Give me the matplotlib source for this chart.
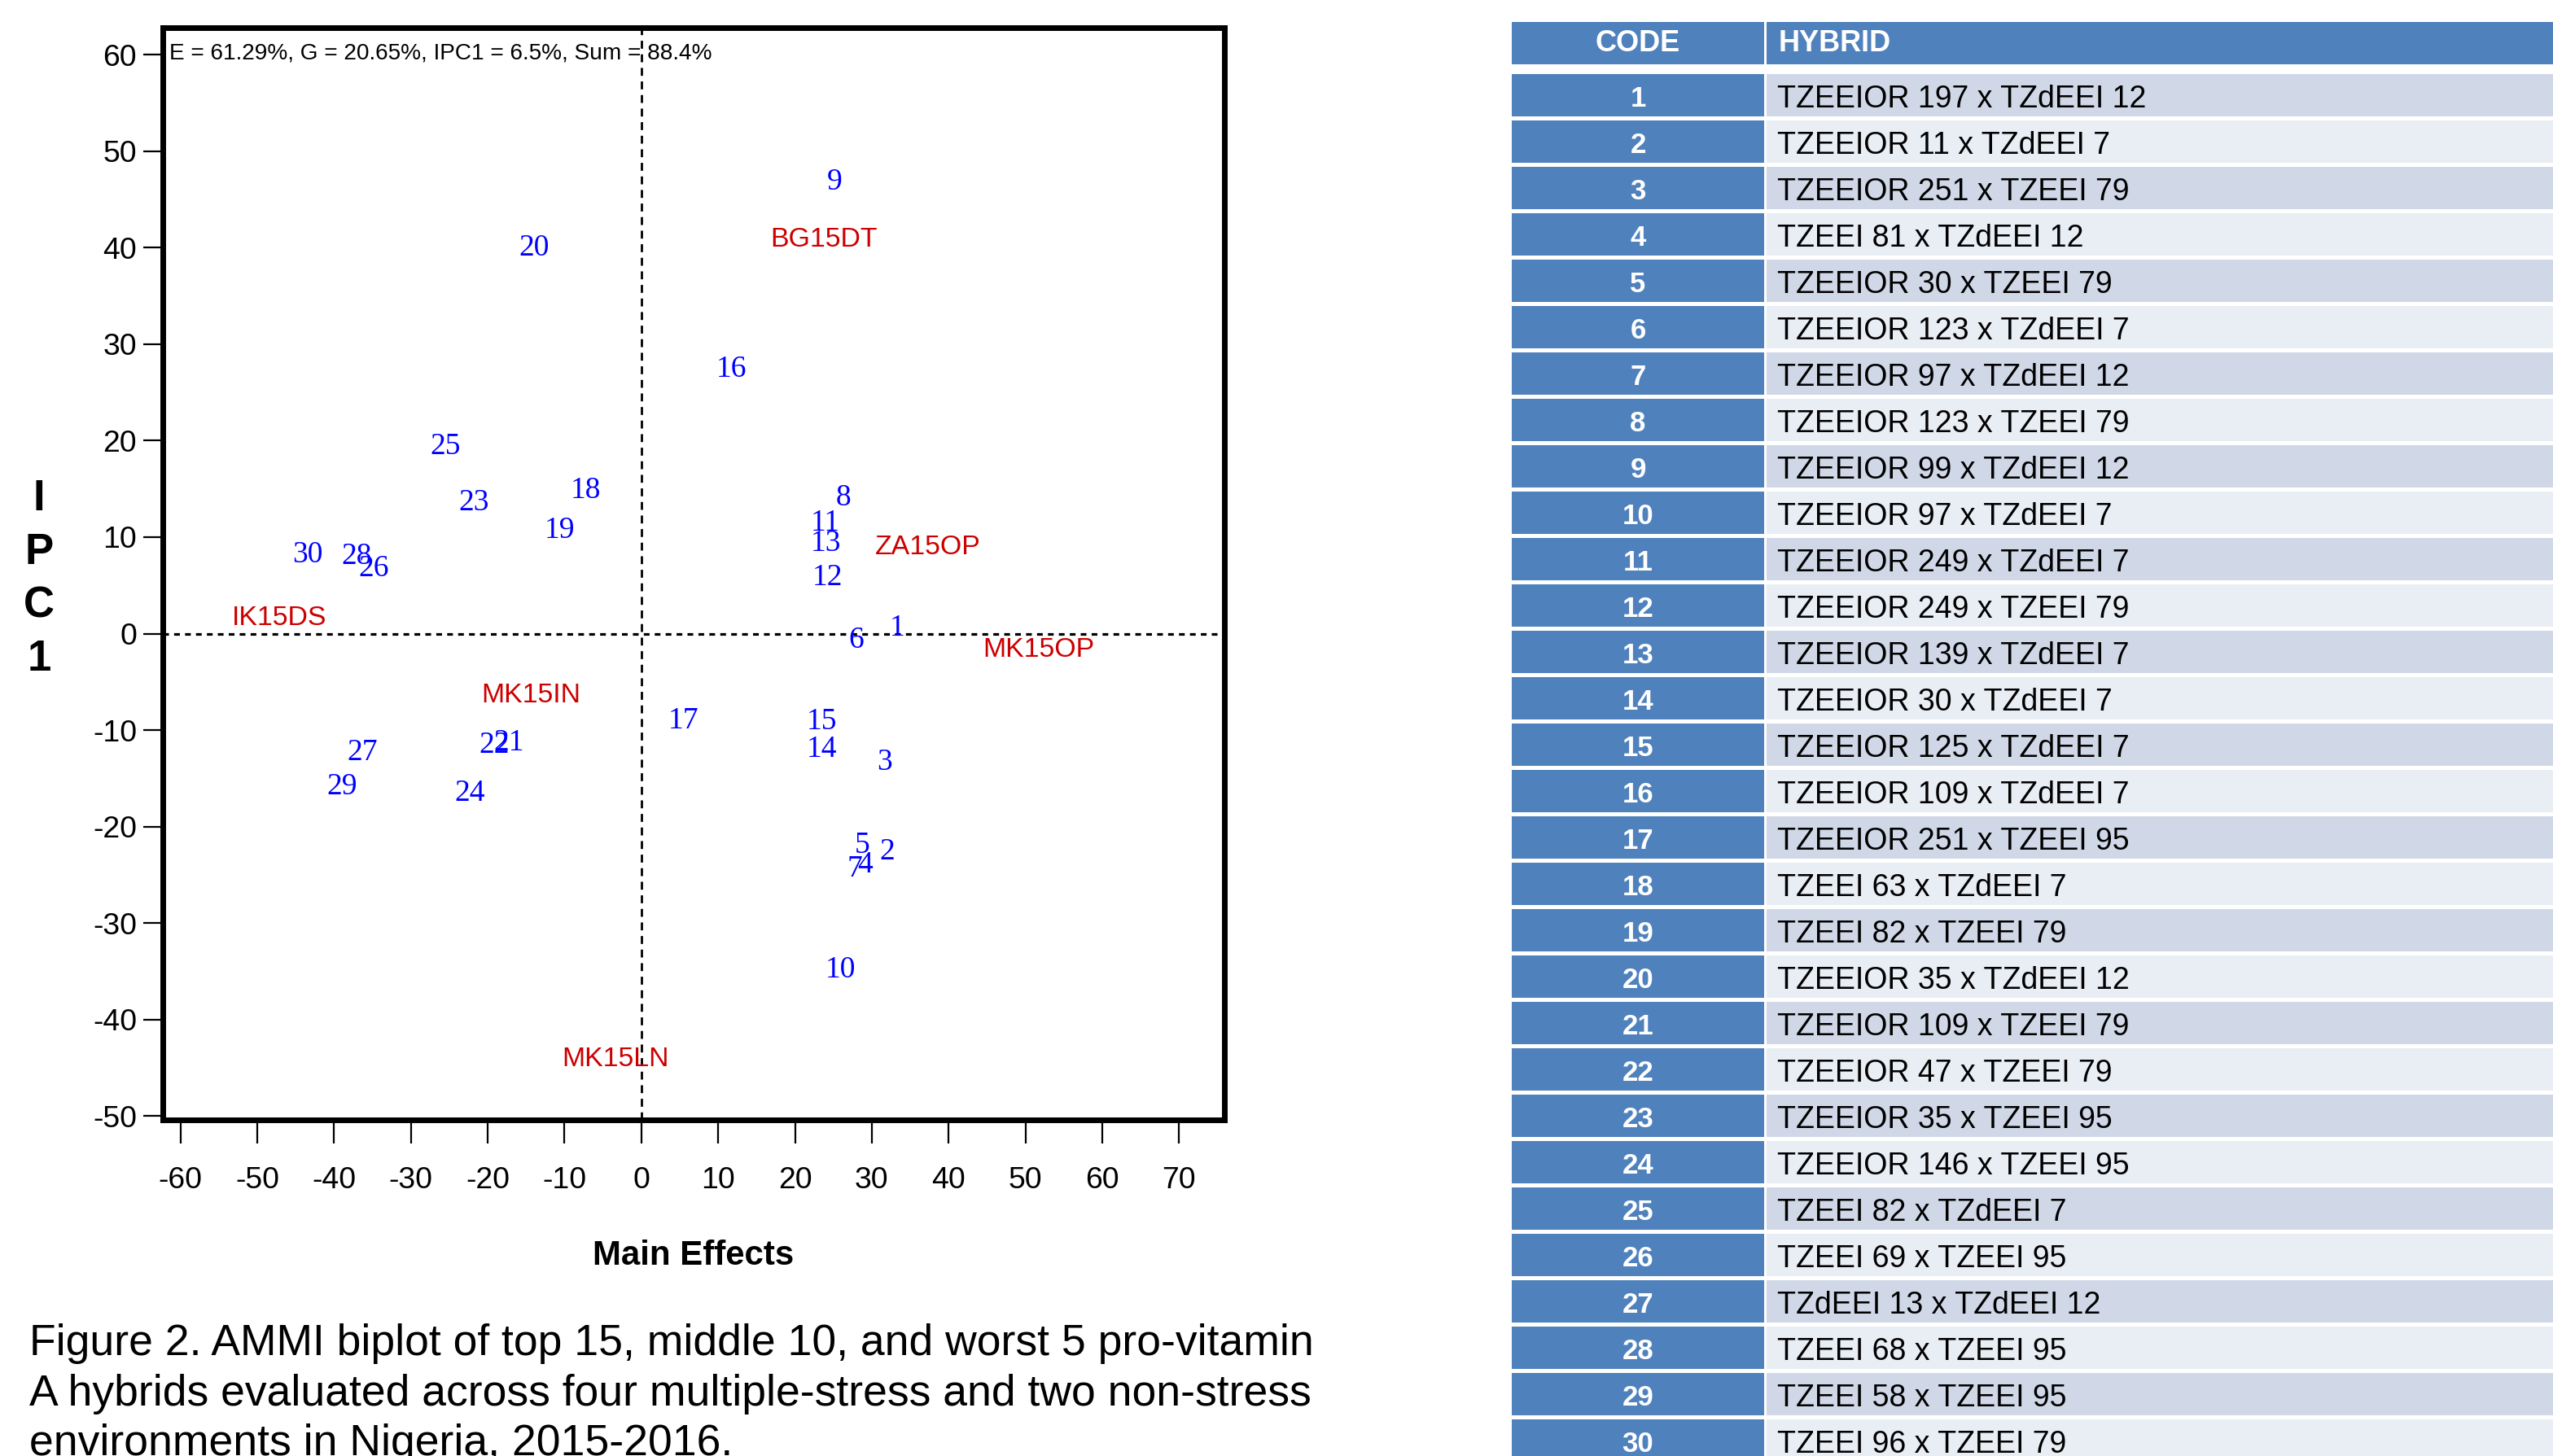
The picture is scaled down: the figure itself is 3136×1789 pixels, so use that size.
import matplotlib
matplotlib.use("Agg")
import matplotlib.pyplot as plt
import matplotlib.font_manager as fm
from matplotlib.patches import Rectangle

# ---------------- data ----------------
genotype_codes = [str(i) for i in range(1, 31)]
main_effects = [33.3, 32.0, 31.6, 29.1, 28.8, 28.0, 27.8, 26.3, 25.2, 25.9,
                24.0, 24.2, 24.0, 23.5, 23.5, 11.7, 5.5, -7.2, -10.6, -14.0,
                -17.2, -19.1, -21.8, -22.3, -25.5, -34.8, -36.3, -37.1, -39.0, -43.5]
ipc1_scores = [0.9, -22.3, -13.0, -23.6, -21.6, -0.4, -24.1, 14.4, 47.1, -34.5,
               11.8, 6.1, 9.7, -11.7, -8.8, 27.7, -8.7, 15.2, 11.0, 40.3,
               -11.0, -11.2, 13.9, -16.2, 19.7, 7.1, -12.0, 8.3, -15.5, 8.5]

environments = ["BG15DT", "ZA15OP", "IK15DS", "MK15OP", "MK15IN", "MK15LN"]
env_main = [23.8, 37.3, -47.1, 51.7, -14.4, -3.4]
env_ipc1 = [41.1, 9.2, 1.9, -1.4, -6.1, -43.8]

x_ticks = list(range(-60, 80, 10))
y_ticks = list(range(-50, 70, 10))

hybrids = [
    "TZEEIOR 197 x TZdEEI 12", "TZEEIOR 11 x TZdEEI 7", "TZEEIOR 251 x TZEEI 79",
    "TZEEI 81 x TZdEEI 12", "TZEEIOR 30 x TZEEI 79", "TZEEIOR 123 x TZdEEI 7",
    "TZEEIOR 97 x TZdEEI 12", "TZEEIOR 123 x TZEEI 79", "TZEEIOR 99 x TZdEEI 12",
    "TZEEIOR 97 x TZdEEI 7", "TZEEIOR 249 x TZdEEI 7", "TZEEIOR 249 x TZEEI 79",
    "TZEEIOR 139 x TZdEEI 7", "TZEEIOR 30 x TZdEEI 7", "TZEEIOR 125 x TZdEEI 7",
    "TZEEIOR 109 x TZdEEI 7", "TZEEIOR 251 x TZEEI 95", "TZEEI 63 x TZdEEI 7",
    "TZEEI 82 x TZEEI 79", "TZEEIOR 35 x TZdEEI 12", "TZEEIOR 109 x TZEEI 79",
    "TZEEIOR 47 x TZEEI 79", "TZEEIOR 35 x TZEEI 95", "TZEEIOR 146 x TZEEI 95",
    "TZEEI 82 x TZdEEI 7", "TZEEI 69 x TZEEI 95", "TZdEEI 13 x TZdEEI 12",
    "TZEEI 68 x TZEEI 95", "TZEEI 58 x TZEEI 95", "TZEEI 96 x TZEEI 79",
]
table_header = ["CODE", "HYBRID"]

annotation = "E = 61.29%, G = 20.65%, IPC1 = 6.5%, Sum = 88.4%"
caption = ("Figure 2. AMMI biplot of top 15, middle 10, and worst 5 pro-vitamin\n"
           "A hybrids evaluated across four multiple-stress and two non-stress\n"
           "environments in Nigeria, 2015-2016.")

# ---------------- fonts ----------------
names = {f.name for f in fm.fontManager.ttflist}
if "Liberation Sans Narrow" in names:
    NARROW = ["Liberation Sans Narrow", "DejaVu Sans"]
    nscale = 1.0
else:
    NARROW = ["Liberation Sans", "DejaVu Sans"]
    nscale = 0.84
SANS = ["Liberation Sans", "DejaVu Sans"]
SERIF = ["Liberation Serif", "DejaVu Serif"]

W, H = 3136, 1789
fig = plt.figure(figsize=(W / 100, H / 100), dpi=100)
fig.patch.set_facecolor("white")

# ---------------- biplot ----------------
ax_l, ax_r, ax_t, ax_b = 200, 1504, 34, 1376
ax = fig.add_axes([ax_l / W, 1 - ax_b / H, (ax_r - ax_l) / W, (ax_b - ax_t) / H])
ax.set_xlim(-62.3, 75.9)
ax.set_ylim(-50.4, 62.8)
for s in ax.spines.values():
    s.set_linewidth(5)
    s.set_color("black")
ax.set_xticks(x_ticks)
ax.set_yticks(y_ticks)
ax.set_xticklabels([str(v) for v in x_ticks], family=NARROW, fontsize=32 * nscale)
ax.set_yticklabels([str(v) for v in y_ticks], family=NARROW, fontsize=32 * nscale)
ax.tick_params(axis="x", direction="out", length=21, width=1.6, pad=20)
ax.tick_params(axis="y", direction="out", length=17, width=1.6, pad=6)

ax.axhline(0, color="black", lw=2.3, ls=(0, (2.2, 2.0)), zorder=1)
ax.axvline(0, color="black", lw=2.0, ls=(0, (3.5, 2.5)), zorder=1)

for c, xv, yv in zip(genotype_codes, main_effects, ipc1_scores):
    ax.text(xv, yv, c, color="#0000FF", family=SERIF, fontsize=27,
            ha="center", va="center_baseline", zorder=3)
for e, xv, yv in zip(environments, env_main, env_ipc1):
    ax.text(xv, yv, e, color="#CC0000", family=NARROW, fontsize=29 * nscale,
            ha="center", va="center_baseline", zorder=3)

ax.text(0.006, 0.979, annotation, transform=ax.transAxes, family=NARROW,
        fontsize=24 * nscale, ha="left", va="center_baseline", color="black")

ax.set_xlabel("Main Effects", family=NARROW, fontsize=36 * nscale,
              fontweight="bold", labelpad=40)
ax.set_ylabel("I\nP\nC\n1", family=NARROW, fontsize=38,
              fontweight="bold", rotation=0, linespacing=1.4,
              ha="center", va="center")
ax.yaxis.set_label_coords(-0.1166, 0.495)

fig.text(36 / W, 1 - 1626 / H, caption, family=SANS, fontsize=38.5,
         ha="left", va="top", linespacing=1.3, color="black")

# ---------------- table ----------------
tx0 = 1857
tab = fig.add_axes([tx0 / W, 0, (W - tx0) / W, 1])
pitch = 57.0
row1_center = 117.0
top_lim = 1 - row1_center / pitch
tab.set_ylim(top_lim + H / pitch, top_lim)
tab.set_xlim(0, W - tx0)
tab.axis("off")

blue = "#4F81BD"
odd_c = "#D0D8E8"
even_c = "#E9EDF4"
rh = 52 / pitch
code_w = 310
hyb_x = 313
hyb_w = (W - tx0) - hyb_x + 20

hdr_y = top_lim + 53 / pitch
tab.add_patch(Rectangle((0, hdr_y - rh / 2), code_w, rh, facecolor=blue, edgecolor="none"))
tab.add_patch(Rectangle((hyb_x, hdr_y - rh / 2), hyb_w, rh, facecolor=blue, edgecolor="none"))
tab.text(code_w / 2, hdr_y - 0.06, table_header[0], color="white", family=SANS,
         fontweight="bold", fontsize=26, ha="center", va="center_baseline")
tab.text(328, hdr_y - 0.06, table_header[1], color="white", family=SANS,
         fontweight="bold", fontsize=26, ha="left", va="center_baseline")

for i, (code, hyb) in enumerate(zip(genotype_codes, hybrids), start=1):
    tab.add_patch(Rectangle((0, i - rh / 2), code_w, rh, facecolor=blue, edgecolor="none"))
    tab.add_patch(Rectangle((hyb_x, i - rh / 2), hyb_w, rh,
                            facecolor=odd_c if i % 2 == 1 else even_c, edgecolor="none"))
    tab.text(code_w / 2, i + 0.02, code, color="white", family=SANS,
             fontweight="bold", fontsize=25, ha="center", va="center_baseline")
    tab.text(326, i + 0.02, hyb, color="black", family=SANS,
             fontsize=27, ha="left", va="center_baseline")

fig.savefig("out.png", dpi=100, facecolor="white")
